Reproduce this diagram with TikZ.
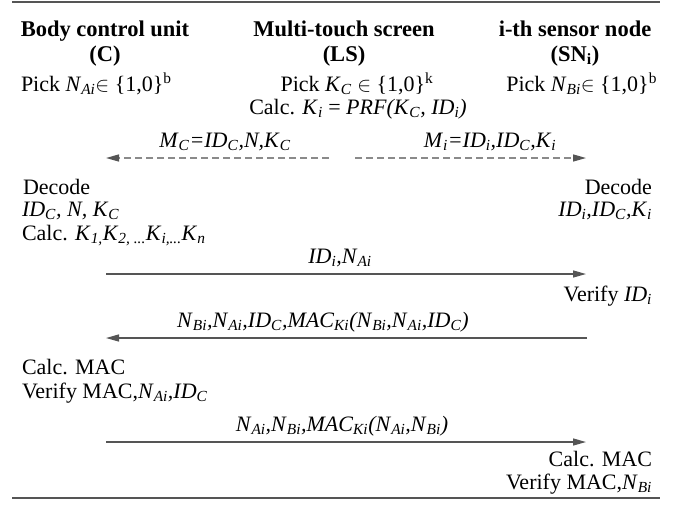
\documentclass[tikz,border=0pt]{standalone}
\usepackage{fontspec}
\setmainfont{Liberation Serif}
\usetikzlibrary{arrows.meta}
\definecolor{rulec}{HTML}{555555}
\definecolor{arrc}{HTML}{555555}
\definecolor{dashc}{HTML}{8A8A8A}
\newcommand{\vit}[1]{\textit{#1}}
\newcommand{\sit}[1]{\textsubscript{\textit{#1}}}
\begin{document}
\begin{tikzpicture}[x=1pt,y=-1pt,
  every node/.style={inner sep=0pt, outer sep=0pt, font=\fontsize{22}{26}\selectfont},
  hd/.style={font=\fontsize{22.5}{26}\selectfont\bfseries, anchor=base},
  lft/.style={anchor=base west},
  rgt/.style={anchor=base east},
  ctr/.style={anchor=base},
  msg/.style={draw=arrc, line width=1.3pt, -{Triangle[length=13pt,width=7pt]}},
  dmsg/.style={draw=dashc, line width=1.3pt, dash pattern=on 7pt off 4pt, -{Triangle[length=13pt,width=7pt,color=arrc]}},
  rulestyle/.style={draw=rulec, line width=2pt}]
\useasboundingbox (0,0) rectangle (690,506);
% rules
\coordinate (tl) at (12,1.5); \coordinate (tr) at (660,1.5);
\coordinate (bl) at (12,498); \coordinate (br) at (660,498);
\draw[rulestyle] (tl) -- (tr);
\draw[rulestyle] (bl) -- (br);
% headers
\node[hd] (hC1) at (105,36) {Body control unit};
\node[hd] (hC2) at (105,61) {(C)};
\node[hd] (hL1) at (344,36) {Multi-touch screen};
\node[hd] (hL2) at (344,61) {(LS)};
\node[hd] (hS1) at (575,36) {i-th sensor node};
\node[hd] (hS2) at (575,61) {(SN\textsubscript{i})};
% initial steps
\node[lft] (pC) at (21,91) {Pick \vit{N}\sit{Ai}$\in$ \{1,0\}\textsuperscript{b}};
\node[ctr] (pL) at (357,91) {Pick \vit{K}\sit{C} $\in$ \{1,0\}\textsuperscript{k}};
\node[ctr] (cL) at (358,114) {Calc. \vit{K}\sit{i} = \vit{PRF(K}\sit{C}\vit{, ID}\sit{i}\vit{)}};
\node[rgt] (pS) at (657,91) {Pick \vit{N}\sit{Bi}$\in$ \{1,0\}\textsuperscript{b}};
% dashed messages
\coordinate (d1s) at (329,158); \coordinate (d1e) at (106,158);
\coordinate (d2s) at (355,158); \coordinate (d2e) at (586,158);
\draw[dmsg] (d1s) -- (d1e);
\draw[dmsg] (d2s) -- (d2e);
\node[ctr] (m1) at (225,147) {\vit{M}\sit{C}\vit{=ID}\sit{C}\vit{,N,K}\sit{C}};
\node[ctr] (m2) at (490,147) {\vit{M}\sit{i}\vit{=ID}\sit{i}\vit{,ID}\sit{C}\vit{,K}\sit{i}};
% decode
\node[lft] (dC1) at (23,194) {Decode};
\node[lft] (dC2) at (22,216) {\vit{ID}\sit{C}\vit{, N, K}\sit{C}};
\node[lft] (dC3) at (22,240) {Calc. \vit{K}\sit{1,}\vit{K}\sit{2, ...}\vit{K}\sit{i,...}\vit{K}\sit{n}};
\node[rgt] (dS1) at (652,194) {Decode};
\node[rgt] (dS2) at (652,216) {\vit{ID}\sit{i}\vit{,ID}\sit{C}\vit{,K}\sit{i}};
% message 1
\coordinate (a1s) at (106,274); \coordinate (a1e) at (586,274);
\draw[msg] (a1s) -- (a1e);
\node[ctr] (l1) at (340,263) {\vit{ID}\sit{i}\vit{,N}\sit{Ai}};
\node[rgt] (vS) at (652,301) {Verify \vit{ID}\sit{i}};
% message 2
\coordinate (a2s) at (587,338); \coordinate (a2e) at (106,338);
\draw[msg] (a2s) -- (a2e);
\node[ctr] (l2) at (323,327) {\vit{N}\sit{Bi}\vit{,N}\sit{Ai}\vit{,ID}\sit{C}\vit{,MAC}\sit{Ki}\vit{(N}\sit{Bi}\vit{,N}\sit{Ai}\vit{,ID}\sit{C}\vit{)}};
\node[lft] (cC1) at (22,374) {Calc. MAC};
\node[lft] (cC2) at (22,398) {Verify MAC,\vit{N}\sit{Ai}\vit{,ID}\sit{C}};
% message 3
\coordinate (a3s) at (106,442); \coordinate (a3e) at (586,442);
\draw[msg] (a3s) -- (a3e);
\node[ctr] (l3) at (342,431) {\vit{N}\sit{Ai}\vit{,N}\sit{Bi}\vit{,MAC}\sit{Ki}\vit{(N}\sit{Ai}\vit{,N}\sit{Bi}\vit{)}};
\node[rgt] (cS1) at (652,466) {Calc. MAC};
\node[rgt] (cS2) at (652,489) {Verify MAC,\vit{N}\sit{Bi}};
\end{tikzpicture}
\end{document}
